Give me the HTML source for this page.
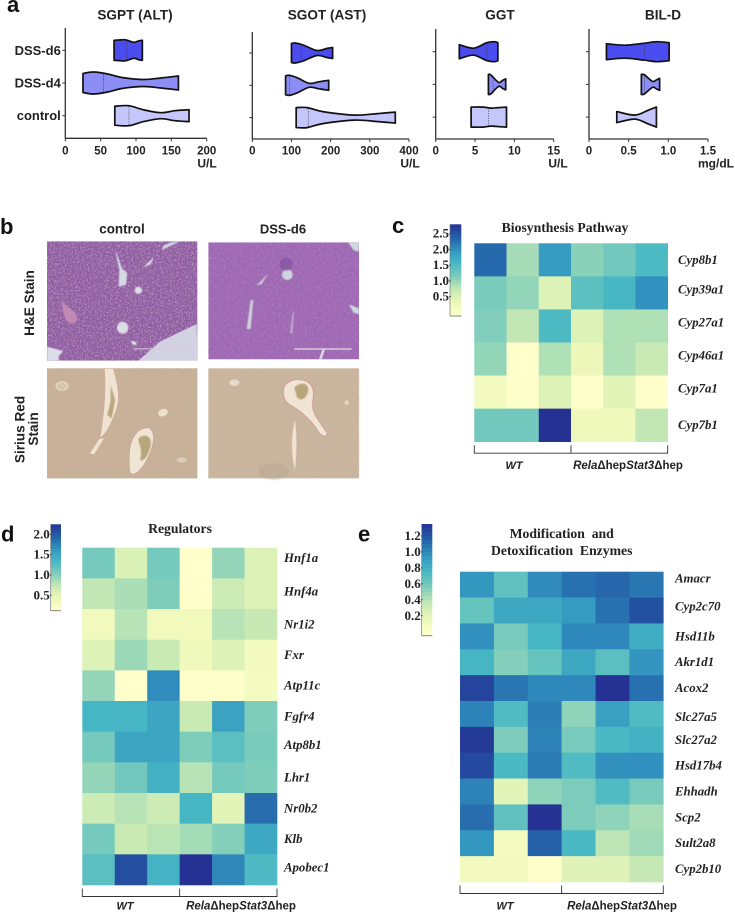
<!DOCTYPE html>
<html lang="en">
<head>
<meta charset="utf-8">
<title>Liver panels</title>
<style>
html,body{margin:0;padding:0;background:#fff;}
svg{display:block;filter:blur(0.3px);}
.sans{font-family:"Liberation Sans",sans-serif;font-weight:bold;fill:#222;}
.serif{font-family:"Liberation Serif",serif;font-weight:bold;fill:#222;white-space:pre;}
</style>
</head>
<body>
<svg id="fig" xmlns="http://www.w3.org/2000/svg" width="735" height="912" viewBox="0 0 735 912">
<defs>
<filter id="mottle-he" x="0" y="0" width="100%" height="100%"><feTurbulence type="fractalNoise" baseFrequency="0.16" numOctaves="2" seed="4"/><feColorMatrix type="matrix" values="0 0 0 0 0.30  0 0 0 0 0.13  0 0 0 0 0.42  2.4 0 0 0 -0.85"/></filter>
<filter id="mottle-he-pale" x="0" y="0" width="100%" height="100%"><feTurbulence type="fractalNoise" baseFrequency="0.2" numOctaves="2" seed="14"/><feColorMatrix type="matrix" values="0 0 0 0 0.72  0 0 0 0 0.50  0 0 0 0 0.68  1.6 0 0 0 -0.72"/></filter>
<filter id="mottle-light" x="0" y="0" width="100%" height="100%"><feTurbulence type="fractalNoise" baseFrequency="0.14" numOctaves="2" seed="9"/><feColorMatrix type="matrix" values="0 0 0 0 0.38  0 0 0 0 0.20  0 0 0 0 0.58  2.2 0 0 0 -0.95"/></filter>
<filter id="mottle-sirius" x="0" y="0" width="100%" height="100%"><feTurbulence type="fractalNoise" baseFrequency="0.16" numOctaves="2" seed="2"/><feColorMatrix type="matrix" values="0 0 0 0 0.50  0 0 0 0 0.46  0 0 0 0 0.38  2 0 0 0 -0.8"/></filter>
<filter id="soft"><feGaussianBlur stdDeviation="1.4"/></filter>
<clipPath id="clip-he1"><rect x="141" y="109" width="451" height="358"/></clipPath>
<clipPath id="clip-he2"><rect x="625" y="112" width="452" height="351"/></clipPath>
</defs>

<!-- Panel b: micrographs (coordinates in 3x space) -->
<g transform="translate(0 205) scale(0.33333)">
  <g clip-path="url(#clip-he1)">
    <rect x="141" y="109" width="451" height="358" fill="#8b5a9a"/>
    <rect x="141" y="109" width="451" height="358" filter="url(#mottle-he)"/>
    <rect x="141" y="109" width="451" height="358" filter="url(#mottle-he-pale)"/>
    <g filter="url(#soft)">
      <path d="M345 135 L358 195 L356 245 L378 240 L382 205 L366 190 L352 150Z" fill="#d5d9e2"/>
      <path d="M485 135 L540 109 L515 112 L490 122Z" fill="#d5dde2"/>
      <path d="M428 188 L462 155 L452 178Z" fill="#d9d5e0"/>
      <circle cx="415" cy="256" r="11" fill="#dcdde6"/>
      <ellipse cx="368" cy="368" rx="17" ry="18" fill="#dcdde6"/>
      <ellipse cx="402" cy="414" rx="9" ry="5" fill="#e3e3ea" transform="rotate(30 402 414)"/>
      <path d="M185 285 C190 300 232 320 232 340 C230 358 205 358 198 345 C190 325 185 305 185 285Z" fill="#c08ab4"/>
      <path d="M141 425 L160 430 L190 438 L175 455 L178 467 L141 467Z" fill="#dcdde6"/>
    </g>
    <path d="M415 467 L480 410 L590 357 L592 467Z" fill="#d2d2e3"/>
    <rect x="400" y="430" width="175" height="3" fill="#d8c8d8"/>
  </g>
  <g clip-path="url(#clip-he2)">
    <rect x="625" y="112" width="452" height="351" fill="#a068b0"/>
    <rect x="625" y="112" width="452" height="351" filter="url(#mottle-light)"/>
    <g filter="url(#soft)">
      <circle cx="862" cy="209" r="16" fill="#cfd4dc"/>
      <circle cx="858" cy="178" r="20" fill="#7a4f9c" opacity=".6"/>
      <path d="M1045 112 L1077 112 L1077 140 L1060 135Z" fill="#cdd8dc"/>
      <path d="M1047 298 L1077 310 L1077 328 L1060 322Z" fill="#cdd8dc"/>
      <path d="M752 285 L760 285 L752 372 L740 372Z" fill="#ccd0d8"/>
      <path d="M770 240 L805 205 L785 238Z" fill="#ccc2da"/>
      <path d="M878 322 L882 322 L878 385 L870 385Z" fill="#bfa9cc"/>
    </g>
    <rect x="883" y="430" width="172" height="4" fill="#e0d4e4"/>
    <path d="M957 463 L967 434 L975 434 L965 463Z" fill="#d9dbe0"/>
  </g>
  <g>
    <rect x="141" y="490" width="451" height="330" fill="#cbb095"/>
    <rect x="141" y="490" width="451" height="330" filter="url(#mottle-sirius)"/>
    <path d="M313 490 L340 490 C350 530 362 570 350 610 C340 640 325 680 300 700 C310 640 320 560 313 490Z" fill="#efe3d2" stroke="#d8a79e" stroke-width="1.5"/>
    <path d="M332 540 L345 585 L335 640 L322 630 L332 590Z" fill="#b7a67a" filter="url(#soft)"/>
    <path d="M298 702 L312 700 L282 748 L270 745Z" fill="#efe3d2"/>
    <path d="M388 760 C385 715 405 668 445 668 C470 680 462 720 445 755 C430 790 405 815 392 805 C385 795 388 775 388 760Z" fill="#f0e4d4" stroke="#d09a9a" stroke-width="2"/>
    <path d="M415 700 C440 680 460 700 450 730 C440 760 430 770 420 765 C430 730 415 720 415 700Z" fill="#b7a67a" filter="url(#soft)"/>
    <ellipse cx="186" cy="543" rx="18" ry="13" fill="#d8c6ae" stroke="#e8dcc8" stroke-width="3"/>
    <ellipse cx="489" cy="623" rx="15" ry="11" fill="#ebdfce" transform="rotate(-20 489 623)"/>
    <ellipse cx="545" cy="765" rx="16" ry="8" fill="#dccbb6"/>
  </g>
  <g>
    <rect x="625" y="490" width="452" height="330" fill="#ceb59c"/>
    <rect x="625" y="490" width="452" height="330" filter="url(#mottle-sirius)"/>
    <path d="M850 560 C850 535 875 520 905 525 C935 530 945 550 938 590 C932 615 950 640 982 685 C975 700 965 695 950 672 C925 635 890 610 870 600 C855 590 850 575 850 560Z" fill="#f0e4d4" stroke="#cf8f90" stroke-width="2"/>
    <path d="M885 545 C905 530 925 535 925 555 C920 585 900 590 890 575 C890 560 880 555 885 545Z" fill="#b7a67a" filter="url(#soft)"/>
    <path d="M885 643 C892 690 890 760 885 795 C875 760 870 700 885 643Z" fill="#efe3d2" stroke="#d9b6a8" stroke-width="1"/>
    <ellipse cx="703" cy="533" rx="15" ry="10" fill="#e8dac8"/>
    <circle cx="1040" cy="593" r="7" fill="#e3d5c2"/>
    <ellipse cx="820" cy="800" rx="45" ry="25" fill="#b3a593" opacity=".4" filter="url(#soft)"/>
  </g>
</g>
<g id="layer"></g>
</svg>

<script>
// ---- Panel a data: violin positions and relative density at each position ----
const violinCategories = ['DSS-d6', 'DSS-d4', 'control'];

const altD6Values = [69, 76, 85, 97, 104, 109];
const altD6Density = [1.0, 1.03, 1.05, 0.8, 0.95, 1.0];
const altD6Median = 87;
const altD4Values = [25, 40, 60, 80, 110, 135, 160];
const altD4Density = [0.95, 1.1, 0.9, 0.55, 0.35, 0.5, 0.7];
const altD4Median = 54;
const altCtlValues = [70, 90, 110, 135, 155, 175];
const altCtlDensity = [0.95, 1.0, 0.6, 0.3, 0.5, 0.6];
const altCtlMedian = 90;

const astD6Values = [100, 110, 130, 165, 190, 205];
const astD6Density = [0.95, 1.0, 0.8, 0.25, 0.45, 0.55];
const astD6Median = 125;
const astD4Values = [85, 95, 115, 145, 170, 195];
const astD4Density = [0.95, 1.0, 0.75, 0.2, 0.35, 0.5];
const astD4Median = 95;
const astCtlValues = [112, 140, 180, 260, 320, 365];
const astCtlDensity = [1.0, 1.0, 0.6, 0.25, 0.4, 0.55];
const astCtlMedian = 143;

const ggtD6Values = [3, 4.8, 6.5, 7.5, 7.9];
const ggtD6Density = [0.7, 0.35, 0.9, 1.0, 0.9];
const ggtD6Median = 6.5;
const ggtD4Values = [6.7, 7, 8, 8.5, 8.9];
const ggtD4Density = [1.0, 0.95, 0.2, 0.4, 0.55];
const ggtD4Median = 7.3;
const ggtCtlValues = [4.5, 6, 7, 8, 9];
const ggtCtlDensity = [1.0, 1.0, 0.9, 0.95, 1.0];
const ggtCtlMedian = 6.7;

const bilD6Values = [0.22, 0.45, 0.7, 0.85, 1.01];
const bilD6Density = [0.8, 0.65, 0.85, 1.0, 0.9];
const bilD6Median = 0.7;
const bilD4Values = [0.66, 0.7, 0.8, 0.85, 0.89];
const bilD4Density = [1.0, 0.95, 0.3, 0.45, 0.6];
const bilD4Median = 0.7;
const bilCtlValues = [0.35, 0.58, 0.75, 0.85];
const bilCtlDensity = [0.55, 0.2, 0.7, 1.0];
const bilCtlMedian = 0.85;

const altTicks = [0, 50, 100, 150, 200];
const astTicks = [0, 100, 200, 300, 400];
const ggtTicks = [0, 5, 10, 15];
const bilTicks = [0, 0.5, 1.0, 1.5];
const bilTickLabels = ['0', '0.5', '1.0', '1.5'];

// ---- Heatmap data ----
const sampleGroups = ['WT', 'RelaΔhepStat3Δhep'];

const biosynthGenes = ['Cyp8b1', 'Cyp39a1', 'Cyp27a1', 'Cyp46a1', 'Cyp7a1', 'Cyp7b1'];
const biosynthValues = [
  [2.25, 0.95, 1.85, 1.1, 1.25, 1.5],
  [1.2, 1.05, 0.55, 1.4, 1.55, 1.95],
  [1.15, 0.8, 1.5, 0.55, 0.9, 0.9],
  [1.05, 0.0, 0.9, 0.4, 0.9, 0.75],
  [0.25, 0.05, 0.55, 0.05, 0.5, 0.05],
  [1.25, 1.25, 2.7, 0.35, 0.35, 0.8]
];
const biosynthTicks = ['0.5', '1.0', '1.5', '2.0', '2.5'];

const regulatorGenes = ['Hnf1a', 'Hnf4a', 'Nr1i2', 'Fxr', 'Atp11c', 'Fgfr4', 'Atp8b1', 'Lhr1', 'Nr0b2', 'Klb', 'Apobec1'];
const regulatorValues = [
  [1.0, 0.47, 1.0, 0.02, 0.85, 0.45],
  [0.65, 0.75, 0.95, 0.02, 0.58, 0.45],
  [0.25, 0.7, 0.25, 0.25, 0.7, 0.62],
  [0.45, 0.82, 0.6, 0.28, 0.45, 0.22],
  [0.85, 0.0, 1.62, 0.03, 0.03, 0.2],
  [1.28, 1.28, 1.42, 0.6, 1.45, 0.95],
  [1.0, 1.42, 1.42, 0.95, 1.15, 0.98],
  [0.85, 1.02, 1.32, 0.7, 1.0, 0.95],
  [0.58, 0.7, 0.58, 1.28, 0.4, 1.8],
  [1.0, 0.6, 0.68, 0.78, 0.92, 1.4],
  [1.15, 2.0, 1.3, 2.2, 1.65, 1.22]
];
const regulatorTicks = ['0.5', '1.0', '1.5', '2.0'];

const enzymeGenes = ['Amacr', 'Cyp2c70', 'Hsd11b', 'Akr1d1', 'Acox2', 'Slc27a5', 'Slc27a2', 'Hsd17b4', 'Ehhadh', 'Scp2', 'Sult2a8', 'Cyp2b10'];
const enzymeValues = [
  [0.97, 0.7, 1.02, 1.12, 1.16, 1.1],
  [0.68, 0.88, 0.88, 0.95, 1.12, 1.25],
  [1.0, 0.62, 0.8, 1.03, 1.03, 0.85],
  [0.8, 0.58, 0.68, 0.88, 0.72, 0.98],
  [1.3, 1.1, 1.03, 1.03, 1.38, 1.12],
  [1.05, 0.76, 1.07, 0.55, 0.92, 0.76],
  [1.35, 0.6, 1.05, 0.62, 0.78, 0.82],
  [1.28, 0.78, 1.08, 0.76, 1.0, 1.0],
  [1.05, 0.25, 0.55, 0.6, 0.76, 0.62],
  [1.13, 0.7, 1.38, 0.6, 0.55, 0.48],
  [0.97, 0.12, 1.18, 0.78, 0.42, 0.5],
  [0.14, 0.14, 0.02, 0.27, 0.27, 0.4]
];
const enzymeTicks = ['0.2', '0.4', '0.6', '0.8', '1.0', '1.2'];

// ---- Drawing ----
const NS = 'http://www.w3.org/2000/svg';
const layer = document.getElementById('layer');
function el(tag, attrs, parent) {
  const n = document.createElementNS(NS, tag);
  for (const k in attrs) n.setAttribute(k, attrs[k]);
  (parent || layer).appendChild(n);
  return n;
}
function txt(str, attrs, parent) {
  const n = el('text', attrs, parent);
  n.textContent = str;
  return n;
}

const ramp = [[255,255,204],[237,248,185],[199,233,180],[127,205,187],[72,184,196],[50,148,192],[36,96,168],[37,50,148]];
function rampColor(t) {
  const c = Math.max(0, Math.min(1, t)) * (ramp.length - 1);
  const i = Math.min(ramp.length - 2, Math.floor(c));
  const f = c - i;
  const a = ramp[i], b = ramp[i + 1];
  return 'rgb(' + [0, 1, 2].map(k => Math.round(a[k] + (b[k] - a[k]) * f)).join(',') + ')';
}

// smooth outline through points (Catmull-Rom)
function smooth(pts) {
  let d = '';
  for (let i = 0; i < pts.length - 1; i++) {
    const p0 = pts[Math.max(0, i - 1)], p1 = pts[i], p2 = pts[i + 1], p3 = pts[Math.min(pts.length - 1, i + 2)];
    const c1x = p1[0] + (p2[0] - p0[0]) / 6, c1y = p1[1] + (p2[1] - p0[1]) / 6;
    const c2x = p2[0] - (p3[0] - p1[0]) / 6, c2y = p2[1] - (p3[1] - p1[1]) / 6;
    d += ' C' + c1x.toFixed(2) + ' ' + c1y.toFixed(2) + ' ' + c2x.toFixed(2) + ' ' + c2y.toFixed(2) + ' ' + p2[0].toFixed(2) + ' ' + p2[1].toFixed(2);
  }
  return d;
}

const violinFill = ['#4a4cef', '#8c8ef6', '#c5c7fc'];
const densityScale = d => d * 10;

function violinChart(cfg) {
  const g = el('g', {});
  
  
  const xScale = v => cfg.x0 + (v - cfg.dMin) / (cfg.dMax - cfg.dMin) * (cfg.x1 - cfg.x0);
  const yCat = i => cfg.yStart + i * cfg.yStep;

  const title = txt(cfg.title, {x: cfg.titleX, y: 19.5, 'text-anchor': 'middle', 'font-size': 13.6, class: 'sans'}, g);
  
  

  const yAxis = el('line', {x1: cfg.x0, x2: cfg.x0, y1: cfg.yTop, y2: cfg.yBase, stroke: '#333', 'stroke-width': 1.3}, g);
  
  
  const xAxis = el('line', {x1: cfg.x0, x2: cfg.x1, y1: cfg.yBase, y2: cfg.yBase, stroke: '#333', 'stroke-width': 1.3}, g);
  
  

  cfg.ticks.forEach((t, i) => {
    const x = xScale(t);
    el('line', {x1: x, x2: x, y1: cfg.yBase, y2: cfg.yBase + 3, stroke: '#333', 'stroke-width': 1}, g);
    const lab = txt(cfg.tickLabels ? cfg.tickLabels[i] : String(t), {x: x, y: 154.5, 'text-anchor': 'middle', 'font-size': 11.5, class: 'sans'}, g);
    
    
  });
  const unit = txt(cfg.unit, {x: cfg.unitX, y: 167.5, 'text-anchor': 'middle', 'font-size': 12, class: 'sans'}, g);
  
  

  violinCategories.forEach((c, i) => {
    const y = yCat(i);
    el('line', {x1: cfg.x0 - 3, x2: cfg.x0, y1: y, y2: y, stroke: '#333', 'stroke-width': 1}, g);
    if (cfg.showLabels) {
      const l = txt(c, {x: cfg.x0 - 4.5, y: y + 4.5, 'text-anchor': 'end', 'font-size': 13, class: 'sans'}, g);
      
      
    }
    const vals = cfg.values[i], dens = cfg.density[i];
    const top = vals.map((v, k) => [xScale(v), y - densityScale(dens[k])]);
    const bot = vals.map((v, k) => [xScale(v), y + densityScale(dens[k])]).reverse();
    const d = 'M' + top[0][0].toFixed(2) + ' ' + top[0][1].toFixed(2) + smooth(top) +
      ' L' + bot[0][0].toFixed(2) + ' ' + bot[0][1].toFixed(2) + smooth(bot) + ' Z';
    const v = el('path', {d: d, fill: violinFill[i], stroke: '#111', 'stroke-width': 1.7, 'stroke-linejoin': 'round'}, g);
    
    
    const mx = xScale(cfg.medians[i]);
    const m = el('line', {x1: mx, x2: mx, y1: y - 9, y2: y + 9, stroke: '#333', 'stroke-width': 0.8, 'stroke-dasharray': '1.2 1.2', opacity: 0.8}, g);
    
    
  });
}

violinChart({key: 'alt', title: 'SGPT (ALT)', titleX: 135, x0: 65.3, x1: 206.7, dMin: 0, dMax: 200, yTop: 28, yBase: 138.3, yStart: 50.3, yStep: 32.7, ticks: altTicks, unit: 'U/L', unitX: 207, showLabels: true,
  values: [altD6Values, altD4Values, altCtlValues], density: [altD6Density, altD4Density, altCtlDensity], medians: [altD6Median, altD4Median, altCtlMedian]});
violinChart({key: 'ast', title: 'SGOT (AST)', titleX: 327, x0: 252.3, x1: 409, dMin: 0, dMax: 400, yTop: 32, yBase: 139, yStart: 53, yStep: 32.3, ticks: astTicks, unit: 'U/L', unitX: 410, showLabels: false,
  values: [astD6Values, astD4Values, astCtlValues], density: [astD6Density, astD4Density, astCtlDensity], medians: [astD6Median, astD4Median, astCtlMedian]});
violinChart({key: 'ggt', title: 'GGT', titleX: 500, x0: 435.7, x1: 553.7, dMin: 0, dMax: 15, yTop: 29, yBase: 139, yStart: 51.7, yStep: 32.7, ticks: ggtTicks, unit: 'U/L', unitX: 558, showLabels: false,
  values: [ggtD6Values, ggtD4Values, ggtCtlValues], density: [ggtD6Density, ggtD4Density, ggtCtlDensity], medians: [ggtD6Median, ggtD4Median, ggtCtlMedian]});
violinChart({key: 'bil', title: 'BIL-D', titleX: 663, x0: 589, x1: 708, dMin: 0, dMax: 1.5, yTop: 29, yBase: 139, yStart: 51.7, yStep: 32.7, ticks: bilTicks, tickLabels: bilTickLabels, unit: 'mg/dL', unitX: 716, showLabels: false,
  values: [bilD6Values, bilD4Values, bilCtlValues], density: [bilD6Density, bilD4Density, bilCtlDensity], medians: [bilD6Median, bilD4Median, bilCtlMedian]});

function heatmap(cfg) {
  const g = el('g', {});
  
  
  const rows = cfg.values.length, cols = cfg.values[0].length;
  const cw = (cfg.x1 - cfg.x0) / cols, ch = (cfg.y1 - cfg.y0) / rows;
  const colorOf = v => rampColor((v - cfg.vMin) / (cfg.vMax - cfg.vMin));
  cfg.values.forEach((row, r) => {
    row.forEach((v, c) => {
      const cell = el('rect', {x: cfg.x0 + c * cw, y: cfg.y0 + r * ch, width: cw + 0.3, height: ch + 0.3, fill: colorOf(v)}, g);
      
      
    });
    const lab = txt(cfg.genes[r], {x: cfg.labelX, y: cfg.y0 + (r + 0.5) * ch + 4 + cfg.labelShift(r), 'font-size': 12.8, 'font-style': 'italic', class: 'serif'}, g);
    
    
  });

  // colour bar
  const bar = cfg.bar;
  const barScale = v => bar.y1 - (v - bar.vLow) / (bar.vHigh - bar.vLow) * (bar.y1 - bar.y0);
  const steps = 28, sh = (bar.y1 - bar.y0) / steps;
  for (let i = 0; i < steps; i++) {
    const s = el('rect', {x: bar.x0, y: bar.y0 + i * sh, width: bar.x1 - bar.x0, height: sh + 0.3, fill: rampColor(1 - (i + 0.5) / steps)}, g);
    
    
  }
  el('line', {x1: bar.x0, x2: bar.x0, y1: bar.y0, y2: bar.y1, stroke: '#777', 'stroke-width': 0.7}, g);
  el('line', {x1: bar.x0, x2: bar.x1, y1: bar.y1, y2: bar.y1, stroke: '#777', 'stroke-width': 0.9}, g);
  cfg.ticks.forEach(t => {
    const y = barScale(parseFloat(t));
    el('line', {x1: bar.x0 - 1, x2: bar.x0 + 1, y1: y, y2: y, stroke: '#444', 'stroke-width': 0.8}, g);
    const l = txt(t, {x: bar.x0 - 1, y: y + 4, 'text-anchor': 'end', 'font-size': 13, class: 'serif'}, g);
    
    
  });

  // title
  cfg.title.forEach((line, i) => {
    const t = txt(line, {x: cfg.titleX, y: cfg.titleY + i * 17, 'text-anchor': 'middle', 'font-size': 13.7, class: 'serif'}, g);
    
    
  });

  // brackets and group labels
  const by0 = cfg.y1 + 3.5, by1 = cfg.y1 + 11.5, mid = (cfg.x0 + cfg.x1) / 2;
  const br = el('path', {d: 'M' + cfg.x0 + ' ' + by0 + ' V' + by1 + ' H' + cfg.x1 + ' V' + by0 + ' M' + mid + ' ' + by0 + ' V' + by1, fill: 'none', stroke: '#333', 'stroke-width': 0.9}, g);
  
  
  const wt = txt(sampleGroups[0], {x: cfg.wtX, y: cfg.groupY, 'text-anchor': 'middle', 'font-size': 11, 'font-style': 'italic', class: 'sans'}, g);
  
  
  const mut = el('text', {x: cfg.mutX, y: cfg.groupY, 'text-anchor': 'middle', 'font-size': 11.5, class: 'sans'}, g);
  
  
  sampleGroups[1].split(/(Δhep)/).filter(Boolean).forEach(part => {
    const s = el('tspan', part === 'Δhep' ? {} : {'font-style': 'italic'}, mut);
    s.textContent = part;
  });
}

heatmap({key: 'biosynthesis', genes: biosynthGenes, values: biosynthValues, ticks: biosynthTicks,
  x0: 474.3, x1: 667.7, y0: 243.3, y1: 441.7, labelX: 678, vMin: 0, vMax: 2.7,
  labelShift: r => (r > 0 && r < 5) ? -3.5 : 0,
  bar: {x0: 450, x1: 461.3, y0: 224.3, y1: 316, vLow: -0.12, vHigh: 2.8},
  title: ['Biosynthesis Pathway'], titleX: 565, titleY: 232, wtX: 514, mutX: 628, groupY: 469});
heatmap({key: 'regulators', genes: regulatorGenes, values: regulatorValues, ticks: regulatorTicks,
  x0: 82.3, x1: 277, y0: 547.7, y1: 885, labelX: 284, vMin: 0, vMax: 2.2,
  labelShift: r => r === 0 ? -5 : (r === 1 || r === 6 || r === 10) ? -2 : 0,
  bar: {x0: 50.7, x1: 61, y0: 524.3, y1: 610.7, vLow: 0.12, vHigh: 2.25},
  title: ['Regulators'], titleX: 180, titleY: 533, wtX: 125, mutX: 241, groupY: 909.5});
heatmap({key: 'enzymes', genes: enzymeGenes, values: enzymeValues, ticks: enzymeTicks,
  x0: 460, x1: 663.3, y0: 571.7, y1: 882, labelX: 675, vMin: 0, vMax: 1.38,
  labelShift: r => r === 0 ? -6 : r === 1 ? -4 : r === 5 ? 3 : 0,
  bar: {x0: 421.7, x1: 432.3, y0: 524, y1: 635.7, vLow: -0.05, vHigh: 1.35},
  title: ['Modification  and', 'Detoxification  Enzymes'], titleX: 561.7, titleY: 538, wtX: 505, mutX: 622, groupY: 909.5});

// ---- Static labels ----
const panelLetters = [['a', 7, 12], ['b', 0, 234], ['c', 392, 233], ['d', 1, 541.5], ['e', 358, 541.5]];
panelLetters.forEach(p => {
  const t = txt(p[0], {x: p[1], y: p[2], 'font-size': 22, class: 'sans', style: 'fill:#111'});
  
  
});

const col1 = txt('control', {x: 122, y: 233.5, 'text-anchor': 'middle', 'font-size': 13.4, class: 'sans'});


const col2 = txt('DSS-d6', {x: 283, y: 233.5, 'text-anchor': 'middle', 'font-size': 13, class: 'sans'});


const row1 = txt('H&E Stain', {x: 0, y: 0, 'text-anchor': 'middle', 'font-size': 13.6, class: 'sans', transform: 'translate(34 303) rotate(-90)'});


const row2a = txt('Sirius Red', {x: 0, y: 0, 'text-anchor': 'middle', 'font-size': 13.6, class: 'sans', transform: 'translate(24.5 429.5) rotate(-90)'});


const row2b = txt('Stain', {x: 0, y: 0, 'text-anchor': 'middle', 'font-size': 13.6, class: 'sans', transform: 'translate(38 429) rotate(-90)'});


</script>
</body>
</html>
